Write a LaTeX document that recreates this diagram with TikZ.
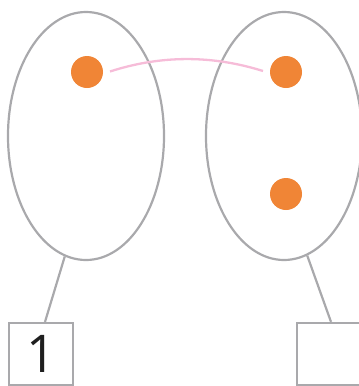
\documentclass[tikz,border=0pt]{standalone}
\usepackage{fontspec}
\setmainfont{Open Sans}
\usetikzlibrary{shapes.geometric,calc}
\definecolor{edgegray}{HTML}{A9A9AC}
\definecolor{dotorange}{HTML}{F08536}
\definecolor{linkpink}{HTML}{F6BCD8}
\begin{document}
\begin{tikzpicture}[x=1pt,y=-1pt,
  setshape/.style={ellipse,draw=edgegray,line width=2.2pt,minimum width=156pt,minimum height=248pt,inner sep=0pt},
  elem/.style={circle,fill=dotorange,minimum size=32pt,inner sep=0pt},
  valbox/.style={rectangle,draw=edgegray,line width=2.2pt,minimum width=64pt,minimum height=62pt,inner sep=0pt,font=\fontsize{52}{52}\selectfont,text=black!88},
  conn/.style={draw=edgegray,line width=2.2pt},
  link/.style={draw=linkpink,line width=2.3pt}]
\useasboundingbox (0,0) rectangle (359,386);
\begin{scope}
\clip (0,0) rectangle (359,386);
\node[setshape] (eL) at (86,136) {};
\node[setshape] (eR) at (284,136) {};
\node[elem] (a) at (87,72) {};
\node[elem] (b) at (286,72) {};
\node[elem] (c) at (286,194) {};
\node[valbox] (bL) at (41,354) {1};
\node[valbox] (bR) at (329,354) {};
\coordinate (p1) at (110,71.5);
\coordinate (p2) at (263,71);
\draw[link] (p1) .. controls (161,55) and (212,55) .. (p2);
\draw[conn] (eL.260) -- ([xshift=4pt]bL.north);
\draw[conn] (eR.281) -- ([xshift=2pt]bR.north);
\end{scope}
\end{tikzpicture}
\end{document}
